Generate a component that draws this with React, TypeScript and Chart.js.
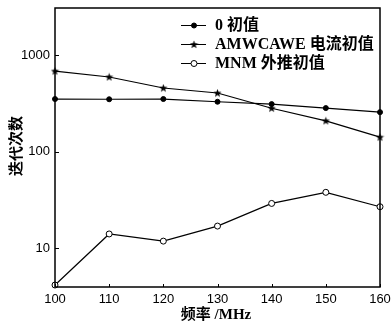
import React, { useEffect, useRef } from "react";
import { Chart, registerables } from "chart.js";

Chart.register(...registerables);

const frequencies = [100, 110, 120, 130, 140, 150, 160];
const zeroInit = [350, 348, 350, 328, 310, 282, 256];
const amwcaweInit = [682, 592, 455, 404, 281, 208, 141];
const mnmInit = [4.14, 14.0, 11.8, 16.9, 29.0, 37.8, 26.8];
const seriesLabels = ["0 初值", "AMWCAWE 电流初值", "MNM 外推初值"];
const yTicks = [10, 100, 1000];
const xTicks = [100, 110, 120, 130, 140, 150, 160];
const xTitle = "频率 /MHz";
const yTitle = "迭代次数";

function makeStar(): HTMLCanvasElement {
  const c = document.createElement("canvas");
  c.width = 9;
  c.height = 9;
  const g = c.getContext("2d")!;
  g.fillStyle = "#000";
  g.beginPath();
  const cx = 4.5, cy = 4.8, R = 4.3, r = 1.8;
  for (let i = 0; i < 10; i++) {
    const a = -Math.PI / 2 + (i * Math.PI) / 5;
    const rad = i % 2 === 0 ? R : r;
    const px = cx + rad * Math.cos(a);
    const py = cy + rad * Math.sin(a);
    if (i === 0) g.moveTo(px, py);
    else g.lineTo(px, py);
  }
  g.closePath();
  g.fill();
  return c;
}

export default function App() {
  const ref = useRef<HTMLCanvasElement | null>(null);
  useEffect(() => {
    document.body.style.margin = "0";
    const star = makeStar();
    const styles: any[] = [
      { pointStyle: "circle", pointRadius: 2.5, pointBackgroundColor: "#000" },
      { pointStyle: star, pointRadius: 4.5, pointBackgroundColor: "#000" },
      { pointStyle: "circle", pointRadius: 3, pointBackgroundColor: "#fff" },
    ];
    const series = [zeroInit, amwcaweInit, mnmInit];

    const deco = {
      id: "deco",
      afterDraw(chart: any) {
        const { ctx, chartArea: a, scales } = chart;
        ctx.save();
        ctx.strokeStyle = "#000";
        ctx.lineWidth = 1.5;
        ctx.strokeRect(a.left, a.top, a.right - a.left, a.bottom - a.top);
        ctx.lineWidth = 1;
        ctx.beginPath();
        yTicks.forEach((v) => {
          const y = Math.round(scales.y.getPixelForValue(v)) + 0.5;
          ctx.moveTo(a.left, y);
          ctx.lineTo(a.left + 4, y);
        });
        xTicks.forEach((v) => {
          const x = Math.round(scales.x.getPixelForValue(v)) + 0.5;
          ctx.moveTo(x, a.bottom);
          ctx.lineTo(x, a.bottom - 3);
        });
        ctx.stroke();

        // legend
        const lx0 = 181, lx1 = 206, tx = 215;
        const rows = [25, 44, 63];
        chart.data.datasets.forEach((ds: any, i: number) => {
          const y = rows[i];
          ctx.strokeStyle = "#000";
          ctx.lineWidth = 1;
          ctx.beginPath();
          ctx.moveTo(lx0, y + 0.5);
          ctx.lineTo(lx1, y + 0.5);
          ctx.stroke();
          const mx = 194;
          const st = styles[i];
          if (st.pointStyle === "circle") {
            ctx.beginPath();
            ctx.arc(mx, y + 0.5, st.pointRadius, 0, Math.PI * 2);
            ctx.fillStyle = st.pointBackgroundColor;
            ctx.fill();
            ctx.stroke();
          } else {
            ctx.drawImage(star, mx - 4.5, y - 4);
          }
          ctx.fillStyle = "#000";
          ctx.font = "bold 16px 'Liberation Serif', 'Noto Sans CJK SC', serif";
          ctx.textBaseline = "middle";
          ctx.textAlign = "left";
          ctx.fillText(ds.label, tx, y + 1);
        });

        // axis titles
        ctx.font = "bold 15px 'Liberation Serif', 'Noto Sans CJK SC', serif";
        ctx.textAlign = "center";
        ctx.textBaseline = "middle";
        ctx.fillText(xTitle, 216, 315);
        ctx.save();
        ctx.translate(15, 146);
        ctx.rotate(-Math.PI / 2);
        ctx.font = "bold 15px 'Noto Sans CJK SC', sans-serif";
        ctx.fillText(yTitle, 0, 0);
        ctx.restore();
        ctx.restore();
      },
    };

    const chart = new Chart(ref.current!, {
      type: "line",
      data: {
        datasets: series.map((s, i) => ({
          label: seriesLabels[i],
          data: frequencies.map((f, j) => ({ x: f, y: s[j] })),
          borderColor: "#000",
          borderWidth: 1.2,
          pointBorderColor: "#000",
          pointBorderWidth: 1,
          tension: 0,
          clip: false,
          ...styles[i],
        })),
      },
      options: {
        responsive: false,
        animation: false,
        layout: { padding: { top: 8, right: 11, left: 0, bottom: 0 } },
        plugins: { legend: { display: false }, tooltip: { enabled: false } },
        scales: {
          x: {
            type: "linear",
            min: 100,
            max: 160,
            afterBuildTicks: (s: any) => {
              s.ticks = xTicks.map((v) => ({ value: v }));
            },
            afterFit: (s: any) => {
              s.height = 37;
              s.paddingLeft = 0;
              s.paddingRight = 0;
            },
            grid: { display: false, drawTicks: false },
            border: { display: false },
            ticks: {
              padding: 5,
              color: "#000",
              font: { family: "'Liberation Sans', Arial, sans-serif", size: 13 },
              maxRotation: 0,
              callback: (v: any) => String(v),
            },
          },
          y: {
            type: "logarithmic",
            min: 3.95,
            max: 3070,
            afterBuildTicks: (s: any) => {
              s.ticks = yTicks.map((v) => ({ value: v }));
            },
            afterFit: (s: any) => {
              s.width = 55;
              s.paddingTop = 0;
              s.paddingBottom = 0;
            },
            grid: { display: false, drawTicks: false },
            border: { display: false },
            ticks: {
              padding: 5,
              color: "#000",
              font: { family: "'Liberation Sans', Arial, sans-serif", size: 13 },
              callback: (v: any) => String(v),
            },
          },
        },
      },
      plugins: [deco],
    } as any);
    return () => chart.destroy();
  }, []);
  return <canvas ref={ref} width={391} height={324} style={{ display: "block" }} />;
}
